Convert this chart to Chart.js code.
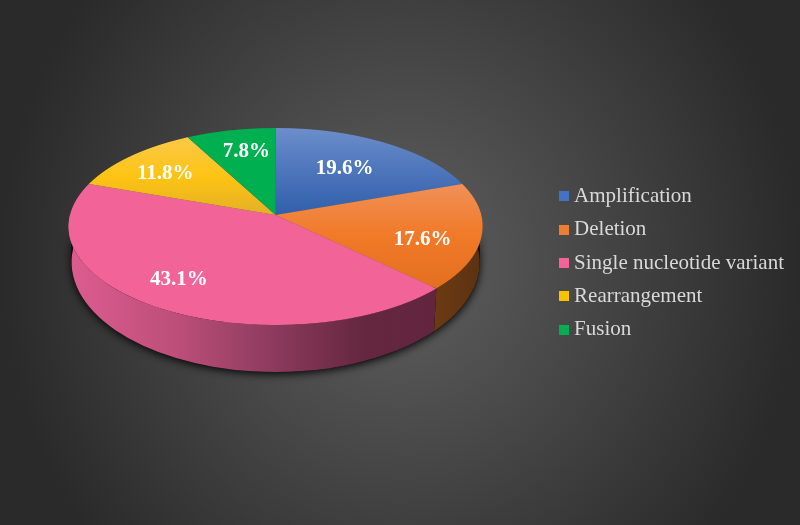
<!DOCTYPE html>
<html><head><meta charset="utf-8">
<style>html,body{margin:0;padding:0;background:#333}canvas{display:block}</style>
<script src="https://cdn.jsdelivr.net/npm/chart.js@4"></script>
</head><body>
<canvas id="c" width="800" height="525"></canvas>
<script>
const categories = ["Amplification","Deletion","Single nucleotide variant","Rearrangement","Fusion"];
const percentages = [19.6,17.6,43.1,11.8,7.8];
const sliceColors = ["#4472c4","#ed7d31","#f26398","#ffc000","#00b050"];
// vertical sheen of each top face: [frame fraction, colour]
const sliceSheen = [
  [[0,"#6c8ecb"],[0.5,"#315fac"]],
  [[0.33,"#f0915a"],[0.6,"#f17a28"],[0.85,"#e36f20"]],
  [[0,"#f26398"],[1,"#f26398"]],
  [[0.1,"#fbc840"],[0.3,"#fdc313"],[0.5,"#e3b025"]],
  [[0,"#00b050"],[1,"#00b050"]]
];
const wallStops = [
  null,
  [[0,"#6b3a13"],[1,"#5c3212"]],
  [[0,"#dd5c8f"],[0.3,"#bb4e79"],[0.55,"#8d3b5e"],[0.8,"#65273f"],[1,"#622540"]],
  null,null
];
const labelReachX = [0.617,0.713,0.831,0.746,0.632];
const labelReachY = [0.643,1.04,0.707,0.721,0.748];

// perspective view of the flat pie: frame circle -> screen
const RADIUS = 207, APEX_Y = 215, RIM_TOP = 128, RIM_BOTTOM = 325;
const Kb = APEX_Y-RIM_TOP, Kf = RIM_BOTTOM-APEX_Y;
const Q = (Kb-Kf)/(Kb+Kf), P = Kf*(1+Q), A = RADIUS*Math.sqrt(1-Q*Q);
const RIM_CY = (RIM_TOP+RIM_BOTTOM)/2, RIM_RY = (RIM_BOTTOM-RIM_TOP)/2;
const BASE_CY = 262, BASE_RX = 204, BASE_RY = 110;

function rimParam(a){ // frame angle -> parameter on the screen ellipse
  const d=1+Q*Math.sin(a);
  const x=A*Math.cos(a)/d, y=APEX_Y+P*Math.sin(a)/d;
  return Math.atan2((y-RIM_CY)/RIM_RY,x/RADIUS);
}

const swatches = sliceColors.map(col=>{
  const s=document.createElement('canvas'); s.width=10; s.height=10;
  const x=s.getContext('2d'); x.fillStyle=col; x.fillRect(0,0,10,10); return s;
});

const backdrop = {
  id:'backdrop',
  beforeDraw(chart){
    const {ctx,width,height}=chart;
    ctx.save();
    ctx.translate(width/2,height/2);
    ctx.scale(1,1.075);
    const g=ctx.createRadialGradient(0,0,0,0,0,400);
    g.addColorStop(0,'#606060');
    g.addColorStop(1,'#2a2a2a');
    ctx.fillStyle=g;
    ctx.fillRect(-width,-height,2*width,2*height);
    ctx.restore();
  }
};

const pie3d = {
  id:'pie3d',
  beforeDatasetsDraw(chart){
    const ctx=chart.ctx, arcs=chart.getDatasetMeta(0).data;
    const cx=arcs[0].x, cy=arcs[0].y;
    // ground shadow
    ctx.save();
    ctx.shadowColor='rgba(0,0,0,0.95)'; ctx.shadowBlur=8; ctx.shadowOffsetY=2;
    ctx.fillStyle='#000';
    ctx.beginPath();
    ctx.ellipse(cx,BASE_CY,BASE_RX,BASE_RY,0,0,Math.PI);
    ctx.ellipse(cx,RIM_CY,RADIUS-3,RIM_RY-3,0,Math.PI,0,true);
    ctx.closePath(); ctx.fill();
    ctx.restore();
    // side walls
    arcs.forEach((arc,i)=>{
      if(!wallStops[i]) return;
      const a0=Math.max(arc.startAngle,0), a1=Math.min(arc.endAngle,Math.PI);
      if(a1<=a0) return;
      const p0=rimParam(a0), p1=rimParam(a1);
      const x0=cx+RADIUS*Math.cos(p1), x1=cx+RADIUS*Math.cos(p0);
      const g=ctx.createLinearGradient(x0,0,x1,0);
      wallStops[i].forEach(s=>g.addColorStop(s[0],s[1]));
      ctx.beginPath();
      ctx.ellipse(cx,RIM_CY,RADIUS,RIM_RY,0,p0,p1);
      ctx.ellipse(cx,BASE_CY,BASE_RX,BASE_RY,0,p1,p0,true);
      ctx.closePath(); ctx.fillStyle=g; ctx.fill();
    });
    // top faces: library arcs drawn through the perspective, one pixel row at a time
    for(let y=RIM_TOP-2;y<RIM_BOTTOM+2;y++){
      const v=y+0.5-APEX_Y, u=v/(P-Q*v), d=1+Q*u;
      ctx.save();
      ctx.beginPath(); ctx.rect(0,y,chart.width,1); ctx.clip();
      ctx.translate(cx,y+0.5);
      ctx.scale(A/(RADIUS*d),P/(d*d)/RADIUS);
      ctx.translate(-cx,-(cy+u*RADIUS));
      arcs.forEach(a=>a.draw(ctx));
      ctx.restore();
    }
    // value labels
    ctx.save();
    ctx.font='bold 21px "Liberation Serif"';
    ctx.fillStyle='#ffffff'; ctx.textAlign='center'; ctx.textBaseline='middle';
    arcs.forEach((arc,i)=>{
      const m=(arc.startAngle+arc.endAngle)/2;
      const X=labelReachX[i]*Math.cos(m), u=labelReachY[i]*Math.sin(m), d=1+Q*u;
      ctx.fillText(percentages[i].toFixed(1)+'%',cx+A*X/d,APEX_Y+P*u/d+2);
    });
    ctx.restore();
    return false;
  }
};

new Chart(document.getElementById('c'),{
  type:'pie',
  data:{labels:categories,datasets:[{
    data:percentages,
    radius:RADIUS,
    borderWidth:0,
    backgroundColor(c){
      const ch=c.chart, a=ch.chartArea;
      const i=c.dataIndex;
      if(!a||i===undefined) return sliceColors[i||0];
      const cy=(a.top+a.bottom)/2;
      const g=ch.ctx.createLinearGradient(0,cy-RADIUS,0,cy+RADIUS);
      sliceSheen[i].forEach(s=>g.addColorStop(s[0],s[1]));
      return g;
    }
  }]},
  options:{
    responsive:false,animation:false,
    layout:{padding:{left:0,right:6,top:1,bottom:0}},
    plugins:{
      tooltip:{enabled:false},
      legend:{
        position:'right',
        labels:{
          color:'#d9d9d9',
          font:{family:'"Liberation Serif"',size:21},
          usePointStyle:true,pointStyleWidth:0.1,boxHeight:10,padding:12.3,
          generateLabels(chart){
            return categories.map((t,i)=>({text:t,fillStyle:sliceColors[i],strokeStyle:sliceColors[i],fontColor:'#d9d9d9',lineWidth:0,pointStyle:swatches[i],index:i,hidden:false}));
          }
        }
      }
    }
  },
  plugins:[backdrop,pie3d]
});
</script>
</body></html>
